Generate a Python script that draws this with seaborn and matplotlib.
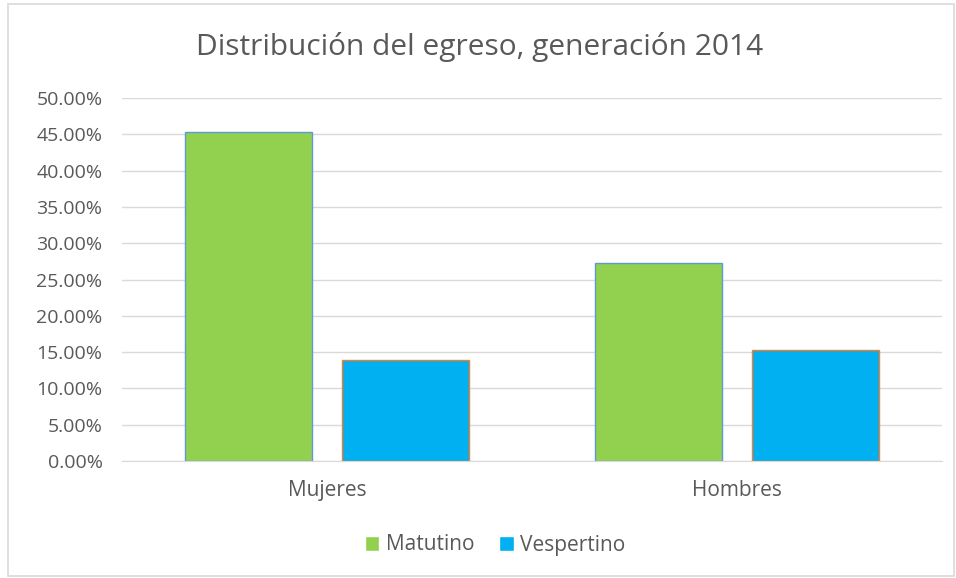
import matplotlib
matplotlib.use('Agg')
import matplotlib.pyplot as plt
import matplotlib.ticker as mtick
from matplotlib.patches import Rectangle
import pandas as pd
import seaborn as sns

categorias = ['Mujeres', 'Hombres']
turnos = ['Matutino', 'Vespertino']
matutino = [0.4530, 0.2730]
vespertino = [0.1385, 0.1525]

colores = {'Matutino': '#92d050', 'Vespertino': '#00b0f0'}
bordes = {'Matutino': '#5b9bd5', 'Vespertino': '#ed7d31'}

df = pd.DataFrame({
    'grupo': categorias * 2,
    'turno': ['Matutino'] * 2 + ['Vespertino'] * 2,
    'valor': matutino + vespertino,
})

sns.set_style('white')
plt.rcParams['font.family'] = ['Open Sans', 'DejaVu Sans']
gris = '#595959'

fig = plt.figure(figsize=(9.56, 5.78), dpi=100)
ax = fig.add_axes([0.1276, 0.2024, 0.8574, 0.628])

sns.barplot(data=df, x='grupo', y='valor', hue='turno', order=categorias,
            hue_order=turnos, palette=colores, saturation=1, width=0.766,
            gap=0.19, ax=ax, legend=True)

# bordes de las barras
for cont, t in zip(ax.containers, turnos):
    for b in cont:
        b.set_edgecolor(bordes[t])
        b.set_linewidth(1.0)

ax.set_ylim(0, 0.5)
ax.set_yticks([i * 0.05 for i in range(11)])
ax.yaxis.set_major_formatter(mtick.FuncFormatter(lambda v, p: f'{v*100:.2f}%'))
ax.set_xlim(-0.5, 1.5)
ax.grid(axis='y', color='#d9d9d9', linewidth=1)
ax.set_axisbelow(True)
for s in ['top', 'right', 'left']:
    ax.spines[s].set_visible(False)
ax.spines['bottom'].set_color('#d9d9d9')
ax.tick_params(axis='y', labelsize=14, colors=gris, length=0, pad=14)
ax.tick_params(axis='x', labelsize=15, colors=gris, length=0, pad=14)
ax.set_xlabel('')
ax.set_ylabel('')

fig.text(0.502, 1 - 47 / 578, 'Distribución del egreso, generación 2014',
         fontsize=21.5, color=gris, ha='center', va='center')

leg = ax.legend(loc='center', bbox_to_anchor=(495 / 956, 1 - 545 / 578), ncol=2,
                bbox_transform=fig.transFigure,
                frameon=False, fontsize=15, handlelength=0.7, handleheight=0.7,
                handletextpad=0.3, columnspacing=1.2)
for txt in leg.get_texts():
    txt.set_color(gris)

fig.patches.append(Rectangle((0.008, 0.003), 0.99, 0.99, transform=fig.transFigure,
                             fill=False, edgecolor='#d9d9d9', linewidth=1.2))

fig.savefig('out.png', dpi=100)
